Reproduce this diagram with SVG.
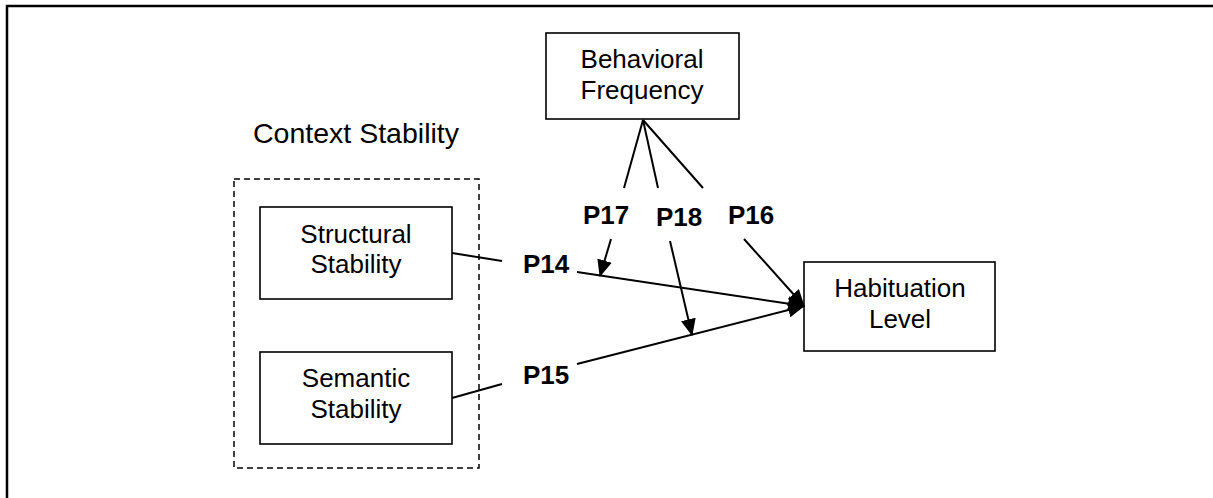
<svg xmlns="http://www.w3.org/2000/svg" width="1213" height="498" viewBox="0 0 1213 498">
<style>
  .box { fill: #fff; stroke: #000; stroke-width: 1.6; }
  .dash { fill: none; stroke: #000; stroke-width: 1.5; stroke-dasharray: 6 4; }
  .t { font-family: "Liberation Sans", Arial, sans-serif; font-size: 26px; fill: #000; text-anchor: middle; }
  .lbl { font-family: "Liberation Sans", Arial, sans-serif; font-size: 26px; font-weight: bold; fill: #000; }
  .ln { stroke: #000; stroke-width: 2; fill: none; }
  .frame { stroke: #000; stroke-width: 2.5; fill: none; }
</style>
<defs>
  <marker id="ah" markerUnits="userSpaceOnUse" markerWidth="17" markerHeight="15" refX="16" refY="7.5" orient="auto">
    <path d="M0,0 L17,7.5 L0,15 z" fill="#000"/>
  </marker>
</defs>
<rect width="1213" height="498" fill="#fff"/>
<path class="frame" d="M7,498 L7,6 L1213,6"/>

<g id="context-stability">
  <rect class="dash" x="234" y="179" width="245" height="289"/>
  <text class="t" x="356" y="143" style="font-size:28.5px">Context Stability</text>
</g>
<g id="structural-stability">
  <rect class="box" x="260" y="207" width="192" height="92"/>
  <text class="t" x="356" y="243">Structural</text>
  <text class="t" x="356" y="273">Stability</text>
</g>
<g id="semantic-stability">
  <rect class="box" x="260" y="352" width="192" height="92"/>
  <text class="t" x="356" y="387">Semantic</text>
  <text class="t" x="356" y="418">Stability</text>
</g>
<g id="behavioral-frequency">
  <rect class="box" x="546" y="33" width="193" height="86"/>
  <text class="t" x="642" y="68">Behavioral</text>
  <text class="t" x="642" y="99">Frequency</text>
</g>
<g id="habituation-level">
  <rect class="box" x="804" y="262" width="191" height="89"/>
  <text class="t" x="900" y="297">Habituation</text>
  <text class="t" x="900" y="328">Level</text>
</g>

<g id="connectors">
  <line class="ln" x1="452" y1="253" x2="502" y2="261"/>
  <line class="ln" x1="577" y1="272" x2="804" y2="306" marker-end="url(#ah)"/>
  <line class="ln" x1="452" y1="398" x2="502" y2="384"/>
  <line class="ln" x1="577" y1="364" x2="804" y2="306" marker-end="url(#ah)"/>
  <line class="ln" x1="643" y1="120" x2="624" y2="188"/>
  <line class="ln" x1="611" y1="239" x2="600" y2="276" marker-end="url(#ah)"/>
  <line class="ln" x1="643" y1="120" x2="658" y2="188"/>
  <line class="ln" x1="670" y1="241" x2="692" y2="335" marker-end="url(#ah)"/>
  <line class="ln" x1="643" y1="120" x2="703" y2="188"/>
  <line class="ln" x1="744" y1="239" x2="804" y2="306" marker-end="url(#ah)"/>
</g>

<g id="labels">
  <text class="lbl" x="583" y="224">P17</text>
  <text class="lbl" x="656" y="226">P18</text>
  <text class="lbl" x="728" y="224">P16</text>
  <text class="lbl" x="523" y="273">P14</text>
  <text class="lbl" x="523" y="384">P15</text>
</g>
</svg>
